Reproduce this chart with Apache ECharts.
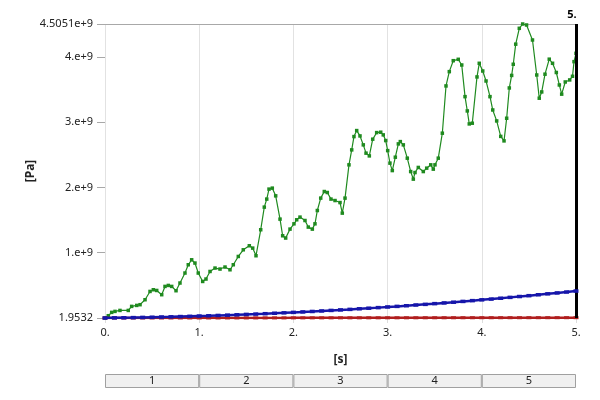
<!DOCTYPE html>
<html>
<head>
<meta charset="utf-8">
<script src="https://cdn.jsdelivr.net/npm/echarts@6/dist/echarts.min.js"></script>
<style>
html,body{margin:0;padding:0;background:#fff;}
#chart{width:600px;height:400px;}
</style>
</head>
<body>
<div id="chart"></div>
<script>
// ---- data ----
var xTickLabels = ['0.', '1.', '2.', '3.', '4.', '5.'];
var yTickValues = [1.9532, 1e9, 2e9, 3e9, 4e9, 4.5051e9];
var yTickLabels = ['1.9532', '1.e+9', '2.e+9', '3.e+9', '4.e+9', '4.5051e+9'];
var tableCells = ['1', '2', '3', '4', '5'];
var cursorTime = 5;
var cursorLabel = '5.';

var greenPoints = [
[0,0],[0.035,0.035e9],[0.071,0.086e9],[0.106,0.101e9],[0.159,0.116e9],[0.247,0.116e9],[0.283,0.178e9],[0.337,0.193e9],[0.372,0.204e9],[0.425,0.280e9],
[0.478,0.407e9],[0.513,0.433e9],[0.549,0.422e9],[0.602,0.357e9],[0.637,0.484e9],[0.672,0.499e9],[0.708,0.484e9],[0.754,0.418e9],[0.796,0.536e9],[0.849,0.689e9],
[0.884,0.816e9],[0.920,0.892e9],[0.955,0.842e9],[0.990,0.689e9],[1.037,0.560e9],[1.072,0.597e9],[1.115,0.713e9],[1.168,0.765e9],[1.221,0.750e9],[1.274,0.781e9],
[1.327,0.739e9],[1.362,0.816e9],[1.415,0.943e9],[1.468,1.045e9],[1.532,1.107e9],[1.568,1.071e9],[1.603,0.954e9],[1.653,1.352e9],[1.691,1.699e9],[1.717,1.822e9],
[1.741,1.975e9],[1.776,1.990e9],[1.812,1.872e9],[1.858,1.515e9],[1.886,1.260e9],[1.918,1.225e9],[1.964,1.362e9],[2.006,1.443e9],[2.035,1.505e9],[2.070,1.546e9],
[2.123,1.494e9],[2.158,1.393e9],[2.201,1.362e9],[2.229,1.443e9],[2.254,1.647e9],[2.290,1.837e9],[2.328,1.938e9],[2.360,1.923e9],[2.399,1.822e9],[2.442,1.800e9],
[2.495,1.769e9],[2.519,1.607e9],[2.548,1.837e9],[2.590,2.347e9],[2.619,2.576e9],[2.643,2.780e9],[2.672,2.872e9],[2.707,2.790e9],[2.742,2.653e9],[2.771,2.526e9],
[2.806,2.484e9],[2.842,2.740e9],[2.884,2.841e9],[2.927,2.847e9],[2.954,2.806e9],[2.980,2.719e9],[3.001,2.565e9],[3.025,2.373e9],[3.050,2.259e9],[3.082,2.464e9],
[3.114,2.668e9],[3.135,2.703e9],[3.167,2.653e9],[3.209,2.449e9],[3.245,2.244e9],[3.273,2.128e9],[3.291,2.229e9],[3.326,2.307e9],[3.379,2.244e9],[3.415,2.296e9],
[3.458,2.347e9],[3.485,2.281e9],[3.503,2.347e9],[3.538,2.449e9],[3.581,2.832e9],[3.620,3.556e9],[3.655,3.775e9],[3.697,3.943e9],[3.750,3.964e9],[3.787,3.877e9],
[3.822,3.392e9],[3.846,3.173e9],[3.867,2.974e9],[3.899,2.985e9],[3.949,3.694e9],[3.973,3.903e9],[4.010,3.785e9],[4.045,3.632e9],[4.087,3.392e9],[4.116,3.188e9],
[4.158,3.020e9],[4.201,2.783e9],[4.236,2.714e9],[4.264,3.061e9],[4.292,3.525e9],[4.317,3.717e9],[4.334,3.888e9],[4.360,4.196e9],[4.398,4.439e9],[4.434,4.5051e9],
[4.475,4.490e9],[4.538,4.260e9],[4.583,3.724e9],[4.610,3.368e9],[4.636,3.464e9],[4.671,3.736e9],[4.716,3.966e9],[4.751,3.903e9],[4.791,3.762e9],[4.823,3.571e9],
[4.848,3.430e9],[4.886,3.617e9],[4.933,3.648e9],[4.963,3.704e9],[4.979,3.928e9],[5.000,4.056e9]
];

var sampleTime = [0,0.1,0.2,0.3,0.4,0.5,0.6,0.7,0.8,0.9,1.0,1.1,1.2,1.3,1.4,1.5,1.6,1.7,1.8,1.9,2.0,2.1,2.2,2.3,2.4,2.5,2.6,2.7,2.8,2.9,3.0,3.1,3.2,3.3,3.4,3.5,3.6,3.7,3.8,3.9,4.0,4.1,4.2,4.3,4.4,4.5,4.6,4.7,4.8,4.9,5.0];
var blueValues = [0,0.002e9,0.004e9,0.006e9,0.009e9,0.012e9,0.015e9,0.018e9,0.022e9,0.026e9,0.030e9,0.034e9,0.039e9,0.044e9,0.049e9,0.055e9,0.060e9,0.066e9,0.073e9,0.079e9,
0.086e9,0.093e9,0.100e9,0.108e9,0.116e9,0.124e9,0.132e9,0.141e9,0.150e9,0.159e9,0.169e9,0.178e9,0.188e9,0.199e9,0.209e9,0.220e9,0.231e9,0.242e9,0.254e9,0.266e9,
0.278e9,0.290e9,0.303e9,0.316e9,0.329e9,0.342e9,0.356e9,0.370e9,0.384e9,0.398e9,0.413e9];
var redValues = [0,0.0001e9,0.0002e9,0.0003e9,0.0004e9,0.0005e9,0.0006e9,0.0007e9,0.0008e9,0.0009e9,0.0010e9,0.0011e9,0.0012e9,0.0013e9,0.0014e9,0.0015e9,0.0016e9,0.0017e9,0.0018e9,0.0019e9,
0.0020e9,0.0021e9,0.0022e9,0.0023e9,0.0024e9,0.0025e9,0.0026e9,0.0027e9,0.0028e9,0.0029e9,0.0030e9,0.0031e9,0.0032e9,0.0033e9,0.0034e9,0.0035e9,0.0036e9,0.0037e9,0.0038e9,0.0039e9,
0.0040e9,0.0041e9,0.0042e9,0.0043e9,0.0044e9,0.0045e9,0.0046e9,0.0047e9,0.0048e9,0.0049e9,0.0050e9];

function zipXY(xs, ys){ return xs.map(function(x,i){ return [x, ys[i]]; }); }

var FONT = 'Noto Sans';
var chart = echarts.init(document.getElementById('chart'), null, {renderer:'canvas'});
chart.setOption({
  animation: false,
  backgroundColor: '#ffffff',
  textStyle: {fontFamily: FONT},
  grid: [
    {left: 105, right: 24, top: 24, bottom: 82, containLabel: false},
    {left: 105, right: 24, top: 374, height: 14, containLabel: false}
  ],
  xAxis: [
    {
      type: 'value', gridIndex: 0, min: 0, max: 5, interval: 1,
      name: '[s]', nameLocation: 'middle', nameGap: 36, nameMoveOverlap: false,
      nameTextStyle: {fontFamily: FONT, fontSize: 12, fontWeight: 'bold', color: '#222'},
      axisLine: {show: true, lineStyle: {color: '#cccccc', width: 1}},
      axisTick: {show: true, length: 5, lineStyle: {color: '#dddddd'}},
      axisLabel: {margin: 9, fontFamily: FONT, fontSize: 11, color: '#222',
        formatter: function(v){ return xTickLabels[Math.round(v)]; }},
      splitLine: {show: true, lineStyle: {color: '#e2e2e2', width: 1}}
    },
    {
      type: 'value', gridIndex: 0, position: 'top', min: 0, max: 5,
      axisLine: {show: true, lineStyle: {color: '#a8a8a8', width: 1}},
      axisTick: {show: false}, axisLabel: {show: false}, splitLine: {show: false}
    },
    {
      type: 'category', gridIndex: 1, data: tableCells,
      axisLine: {show: false}, axisTick: {show: false}, axisLabel: {show: false}, splitLine: {show: false}
    }
  ],
  yAxis: [
    {
      type: 'value', gridIndex: 0, min: 1.9532, max: 4.5051e9,
      name: '[Pa]', nameLocation: 'middle', nameGap: 68, nameRotate: 90, nameMoveOverlap: false,
      nameTextStyle: {fontFamily: FONT, fontSize: 12, fontWeight: 'bold', color: '#222'},
      axisLine: {show: false},
      axisTick: {show: true, length: 8, customValues: yTickValues, lineStyle: {color: '#a8a8a8'}},
      axisLabel: {margin: 12, fontFamily: FONT, fontSize: 11, color: '#222', customValues: yTickValues,
        formatter: function(v){
          var best = 0, d = Infinity;
          for (var i = 0; i < yTickValues.length; i++) {
            var dd = Math.abs(yTickValues[i] - v);
            if (dd < d) { d = dd; best = i; }
          }
          return yTickLabels[best];
        }},
      splitLine: {show: false}
    },
    {type: 'value', gridIndex: 1, min: 0, max: 1, show: false}
  ],
  series: [
    {
      type: 'line', name: 'green', xAxisIndex: 0, yAxisIndex: 0, data: greenPoints,
      lineStyle: {color: '#1f8a1f', width: 1.2},
      itemStyle: {color: '#1f8a1f'},
      symbol: 'rect', symbolSize: 3.5, showSymbol: true, z: 3
    },
    {
      type: 'line', name: 'red', xAxisIndex: 0, yAxisIndex: 0, data: zipXY(sampleTime, redValues),
      lineStyle: {color: '#b01e1e', width: 2.5},
      itemStyle: {color: '#b01e1e'},
      symbol: 'rect', symbolSize: [5, 3], showSymbol: true, z: 4
    },
    {
      type: 'line', name: 'blue', xAxisIndex: 0, yAxisIndex: 0, data: zipXY(sampleTime, blueValues),
      lineStyle: {color: '#1616aa', width: 2.5},
      itemStyle: {color: '#1616aa'},
      symbol: 'rect', symbolSize: [5, 3.5], showSymbol: true, z: 5,
      markLine: {
        silent: true, symbol: 'none', animation: false,
        lineStyle: {color: '#000000', width: 3, type: 'solid'},
        label: {show: true, position: 'end', formatter: cursorLabel, fontFamily: FONT,
          fontSize: 11, fontWeight: 'bold', color: '#000', distance: 4, offset: [-4, 0]},
        emphasis: {disabled: true},
        data: [{xAxis: cursorTime}]
      }
    },
    {
      type: 'bar', name: 'table', xAxisIndex: 2, yAxisIndex: 1, data: [1,1,1,1,1],
      barWidth: '100%', barCategoryGap: 0, silent: true,
      itemStyle: {color: '#f0f0f0', borderColor: '#a0a0a0', borderWidth: 1},
      label: {show: true, position: 'inside', formatter: '{b}', fontFamily: FONT, fontSize: 11, color: '#222'}
    }
  ]
});
</script>
</body>
</html>
